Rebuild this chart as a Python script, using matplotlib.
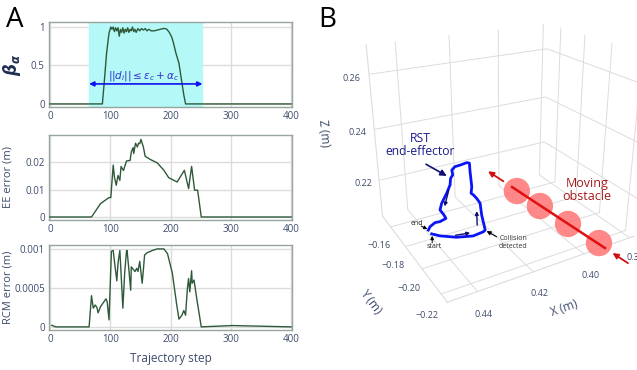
import matplotlib
matplotlib.use("Agg")
import matplotlib.pyplot as plt
import numpy as np
from mpl_toolkits.mplot3d import proj3d

plt.rcParams['font.family'] = ['Open Sans', 'DejaVu Sans']
plt.rcParams['mathtext.fontset'] = 'dejavusans'

# ----- Panel A data -----
beta_steps = [0, 87, 90, 94, 98, 101, 103, 105, 107, 109, 111, 113, 115, 117, 119, 121, 123, 125,
              127, 129, 131, 133, 135, 137, 139, 141, 143, 146, 149, 152, 155, 158, 161, 164, 168,
              173, 178, 183, 188, 191, 194, 198, 202, 205, 209, 214, 219, 222, 225, 400]
beta = [0, 0, 0.27, 0.66, 0.92, 1.0, 0.97, 1.0, 0.94, 0.99, 0.95, 0.99, 0.88, 0.97, 0.93, 0.99,
        0.92, 0.97, 0.94, 0.99, 0.93, 0.97, 0.95, 1.0, 0.94, 0.97, 0.93, 0.98, 0.95, 0.98, 0.96,
        0.98, 0.95, 0.97, 0.95, 0.95, 0.96, 0.97, 0.98, 0.98, 0.97, 0.93, 0.87, 0.79, 0.66, 0.53,
        0.27, 0.12, 0, 0]

ee_steps = [0, 69, 84, 98, 101, 105, 107, 110, 113, 116, 118, 122, 127, 133, 135, 138, 139, 142,
            145, 147, 149, 151, 155, 158, 167, 178, 189, 197, 211, 223, 230, 235, 240, 245, 251, 400]
ee_err = [0, 0, 0.0049, 0.0071, 0.0071, 0.019, 0.0146, 0.0116, 0.0152, 0.0134, 0.0185, 0.017,
          0.0205, 0.0207, 0.0238, 0.0254, 0.0232, 0.027, 0.0256, 0.027, 0.0268, 0.0284, 0.0256,
          0.0222, 0.021, 0.0198, 0.0171, 0.0144, 0.0128, 0.0171, 0.0104, 0.0185, 0.0098, 0.0098,
          0, 0]

rcm_steps = [3, 10, 65, 69, 72, 75, 78, 80, 84, 93, 95, 98, 102, 105, 107, 111, 113, 116, 118,
             121, 124, 127, 128, 131, 134, 135, 138, 141, 144, 146, 149, 153, 155, 157, 161, 170,
             178, 189, 195, 203, 210, 214, 219, 222, 225, 228, 230, 232, 235, 236, 239, 244, 251,
             302, 400]
rcm_err = [0.00002, 0, 0, 0.0004, 0.00024, 0.00028, 0.00025, 0.00018, 0.00026, 0.00036, 0.00032,
           0.00009, 0.00097, 0.00098, 0.00084, 0.00059, 0.00082, 0.00098, 0.00069, 0.00024,
           0.00069, 0.00097, 0.00098, 0.00073, 0.00047, 0.00077, 0.00074, 0.00071, 0.00075,
           0.00071, 0.00084, 0.00056, 0.00073, 0.00092, 0.00095, 0.00098, 0.001, 0.001, 0.00094,
           0.00069, 0.0003, 0.0001, 0.00015, 0.00021, 0.00015, 0.00049, 0.00062, 0.00045, 0.00072,
           0.00056, 0.0006, 0.00034, 0, 0.000017, 0]

band = [65, 253]

# ----- Panel B data -----
traj_x = [0.4433, 0.4414, 0.4370, 0.4322, 0.4290, 0.4285, 0.4297, 0.4302, 0.4314, 0.4325,
          0.4333, 0.4330, 0.4335, 0.4336, 0.4343, 0.4364, 0.4380, 0.4389, 0.4385, 0.4391,
          0.4392, 0.4403, 0.4420, 0.4425, 0.4411, 0.4403, 0.4418, 0.4429, 0.4441, 0.4444]
traj_y = [-0.1906, -0.1940, -0.1985, -0.2020, -0.2035, -0.2040, -0.2040, -0.2040, -0.2040,
          -0.2040, -0.2040, -0.2040, -0.2040, -0.2040, -0.2035, -0.2030, -0.2025, -0.2020,
          -0.2015, -0.2010, -0.2005, -0.2000, -0.1995, -0.1990, -0.1985, -0.1980, -0.1960,
          -0.1940, -0.1920, -0.1906]
traj_z = [0.2122, 0.2122, 0.2121, 0.2125, 0.2137, 0.2144, 0.2204, 0.2249, 0.2270, 0.2285,
          0.2293, 0.2315, 0.2374, 0.2398, 0.2400, 0.2395, 0.2392, 0.2381, 0.2362, 0.2350,
          0.2326, 0.2298, 0.2265, 0.2241, 0.2217, 0.2200, 0.2185, 0.2177, 0.2158, 0.2140]

obs_x = [0.4192, 0.4102, 0.3982, 0.3835]
obs_y = [-0.21, -0.21, -0.21, -0.21]
obs_z = [0.2284, 0.2204, 0.2099, 0.1973]
obs_path_x = [0.4210, 0.3804]
obs_path_y = [-0.21, -0.21]
obs_path_z = [0.2303, 0.1941]

line_col = '#2f5a3a'
txt_col = '#3d4b6b'
grid_col = '#dcdcdc'
frame_col = '#97a59f'

fig = plt.figure(figsize=(6.37, 3.70), dpi=100)

H = 370.0
W = 637.0


def left_axes(top, bottom):
    ax = fig.add_axes([49 / W, (H - bottom) / H, 243 / W, (bottom - top) / H])
    ax.set_xlim(-1.5, 401.5)
    ax.set_xticks([0, 100, 200, 300, 400])
    ax.grid(True, color=grid_col, linewidth=1)
    ax.set_axisbelow(True)
    ax.tick_params(length=0, labelsize=7, labelcolor=txt_col, pad=3)
    for s in ax.spines.values():
        s.set_color(frame_col)
        s.set_linewidth(1)
    return ax


ax1 = left_axes(22, 107)
ax1.axvspan(band[0], band[1], color='#b4f8f8', zorder=1)
ax1.plot(beta_steps, beta, color=line_col, linewidth=1, zorder=3)
ax1.set_ylim(-0.04, 1.065)
ax1.set_yticks([0, 0.5, 1])
ax1.set_yticklabels(['0', '0.5', '1'])
ax1.annotate('', xy=(band[0], 0.26), xytext=(band[1], 0.26),
             arrowprops=dict(arrowstyle='<|-|>', color='#1010ee', lw=1.2, mutation_scale=7,
                             shrinkA=0, shrinkB=0), zorder=4)
ax1.text(155, 0.36, r'$||d_i|| \leq \epsilon_c + \alpha_c$', color='#3030d0', fontsize=7.5,
         ha='center', va='center', zorder=4)
ax1.set_ylabel(r'$\boldsymbol{\beta}_{\boldsymbol{\alpha}}$', color='#1f2d50', fontsize=12)
ax1.yaxis.set_label_coords(-0.105, 0.5)

ax2 = left_axes(135, 220)
ax2.plot(ee_steps, ee_err, color=line_col, linewidth=1, zorder=3)
ax2.set_ylim(-0.0011, 0.030)
ax2.set_yticks([0, 0.01, 0.02])
ax2.set_yticklabels(['0', '0.01', '0.02'])
ax2.set_ylabel('EE error (m)', color=txt_col, fontsize=8)
ax2.yaxis.set_label_coords(-0.145, 0.5)

ax3 = left_axes(245, 330)
ax3.plot(rcm_steps, rcm_err, color=line_col, linewidth=1, zorder=3)
ax3.set_ylim(-0.00004, 0.00105)
ax3.set_yticks([0, 0.0005, 0.001])
ax3.set_yticklabels(['0', '0.0005', '0.001'])
ax3.set_ylabel('RCM error (m)', color=txt_col, fontsize=8)
ax3.yaxis.set_label_coords(-0.145, 0.5)
ax3.set_xlabel('Trajectory step', color=txt_col, fontsize=8.5, labelpad=5)

fig.text(6 / W, 1 - 20 / H, 'A', fontsize=20, va='center', ha='left')
fig.text(318 / W, 1 - 20 / H, 'B', fontsize=20, va='center', ha='left')

# ----- Panel B: 3D -----
ax4 = fig.add_axes([0.533, 0.166, 0.504, 0.868], projection='3d')
ax4.set_proj_type('persp', focal_length=0.33)
ax4.view_init(elev=23, azim=-120)
ax4.set_box_aspect((4, 3.2, 3.6))
ax4.set_xlim(0.45, 0.378)
ax4.set_ylim(-0.226, -0.148)
ax4.set_zlim(0.205, 0.27)
ax4.set_xticks([0.44, 0.42, 0.4, 0.38])
ax4.set_yticks([-0.22, -0.2, -0.18, -0.16])
ax4.set_zticks([0.22, 0.24, 0.26])
for a in (ax4.xaxis, ax4.yaxis, ax4.zaxis):
    a.set_pane_color((1, 1, 1, 0))
    a.line.set_color(grid_col)
    a._axinfo['grid']['color'] = grid_col
    a._axinfo['grid']['linewidth'] = 0.7
    a._axinfo['tick']['inward_factor'] = 0
    a._axinfo['tick']['outward_factor'] = 0
ax4.tick_params(labelsize=6.5, labelcolor=txt_col, pad=0)
ax4.set_xlabel('X (m)', color=txt_col, fontsize=8.5, labelpad=-2)
ax4.set_ylabel('Y (m)', color=txt_col, fontsize=8.5)
ax4.set_zlabel('Z (m)', color=txt_col, fontsize=8.5)

ax4.plot(traj_x, traj_y, traj_z, color='#0a14f5', linewidth=2)
ax4.plot(obs_path_x, obs_path_y, obs_path_z, color='#e01010', linewidth=1.8, zorder=5)
ax4.scatter(obs_x, obs_y, obs_z, s=360, color='#ff7373', alpha=0.85, edgecolors='none',
            depthshade=False)

fig.canvas.draw()
M = ax4.get_proj()


def px(i, xs=traj_x, ys=traj_y, zs=traj_z):
    x2, y2, _ = proj3d.proj_transform(xs[i], ys[i], zs[i], M)
    return ax4.transData.transform((x2, y2))


def arrow(head, tail, col, lw=1.0, ms=7):
    ax4.annotate('', xy=head, xycoords='figure pixels', xytext=tail, textcoords='figure pixels',
                 arrowprops=dict(arrowstyle='-|>', color=col, lw=lw, mutation_scale=ms,
                                 shrinkA=0, shrinkB=0))


def label(pos, s, **kw):
    ax4.annotate(s, xy=pos, xycoords='figure pixels', ha='center', va='center', **kw)


p_start = px(0)
p_end = px(len(traj_x) - 1)
p_coll = px(5)
p_tip = px(18)

arrow(p_end + [-1, 1], p_end + [-7, 4], 'black', 0.7, 5)
label(p_end + [-11, 7], 'end', fontsize=5, color='#222222')
arrow(p_start + [0.5, -2], p_start + [0.5, -9], 'black', 0.7, 5)
label(p_start + [2.6, -13], 'start', fontsize=5, color='#222222')
arrow(p_coll + [1.4, -1], p_coll + [11.4, -6.7], 'black', 0.8, 6)
label(p_coll + [28, -12.7], 'Collision\ndetected', fontsize=5, color='#333333', linespacing=1.2)

# direction arrows along the path
arrow(px(3) + [-3, 3], px(2) + [-1, 2], '#101070', 1.0, 5)
arrow(px(6) + [-5, 4], px(5) + [-8, 5], '#101070', 1.0, 5)
arrow(px(22) + [3, -3], px(21) + [2, 3], '#101070', 1.0, 5)

arrow(p_tip + [-6, -1], p_tip + [-26.7, 10.7], '#101070', 1.2, 9)
label(p_tip + [-32.7, 30], 'RST\nend-effector', fontsize=8.7, color='#1c1c8c', linespacing=1.05)

o0 = px(0, obs_path_x, obs_path_y, obs_path_z)
o1 = px(1, obs_path_x, obs_path_y, obs_path_z)
d = (o1 - o0) / np.hypot(*(o1 - o0))
arrow(o0 - d * 28.7, o0 - d * 10.4, '#d01010', 1.3, 8)
arrow(o1 + d * 9.1, o1 + d * 27.5, '#d01010', 1.3, 8)
label(o0 + [75, -3], 'Moving\nobstacle', fontsize=9, color='#a51c1c', linespacing=1.05)

fig.savefig('out.png', dpi=100)
